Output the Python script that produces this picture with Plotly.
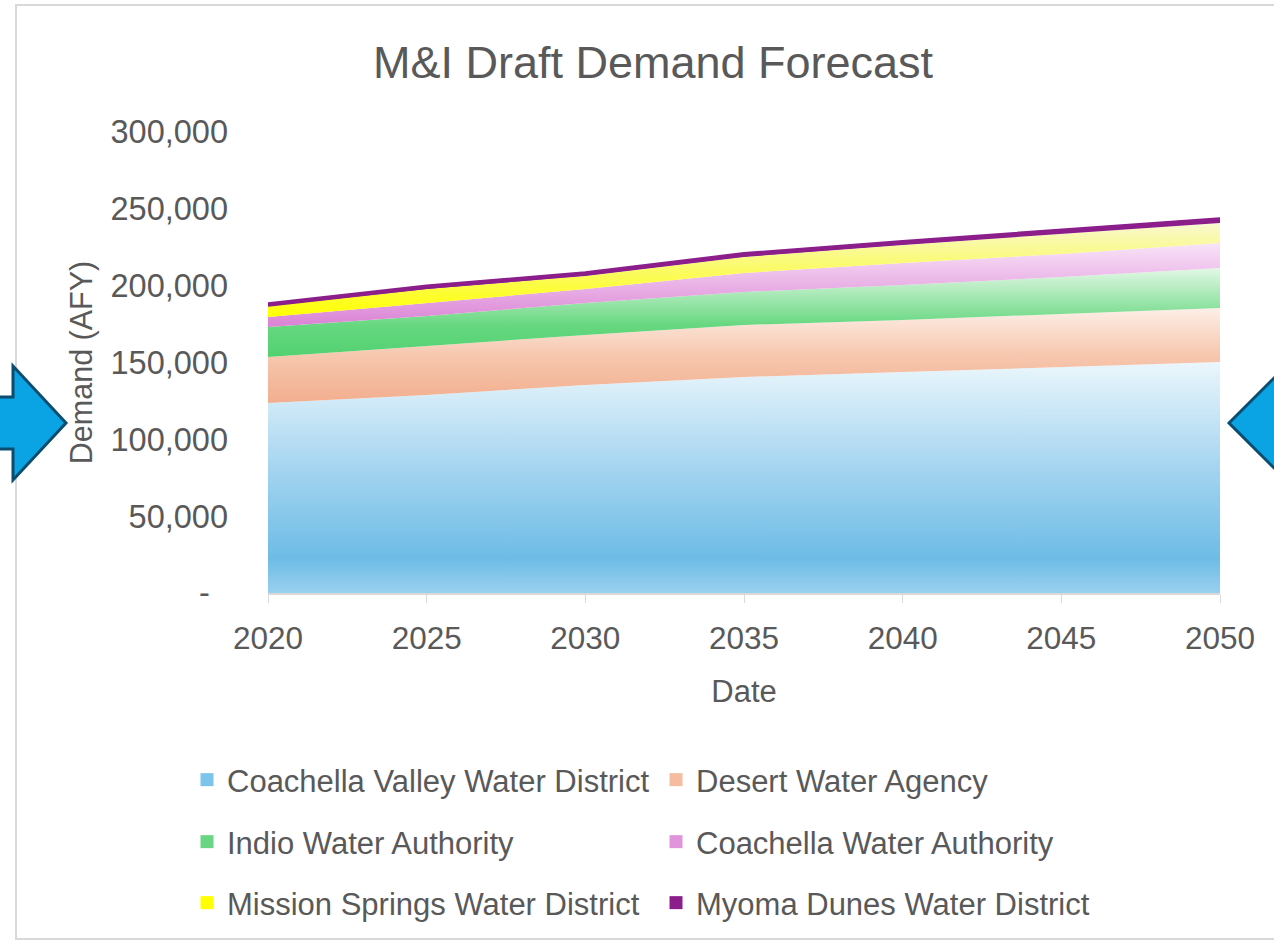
import plotly.graph_objects as go

years = [2020, 2025, 2030, 2035, 2040, 2045, 2050]
cvwd = [123700, 128900, 135400, 140600, 143800, 147000, 150300]
dwa = [29900, 31800, 32500, 33800, 33900, 34600, 35200]
iwa = [19500, 19600, 20800, 21500, 22800, 24000, 26000]
cwa = [6500, 8400, 9100, 12400, 14300, 15000, 16300]
mswd = [7200, 9100, 8500, 10400, 11700, 13000, 13000]
mdwd = [1000, 1500, 1700, 1700, 1800, 2000, 2300]

names = ["Coachella Valley Water District", "Desert Water Agency",
         "Indio Water Authority", "Coachella Water Authority",
         "Mission Springs Water District", "Myoma Dunes Water District"]
series = [cvwd, dwa, iwa, cwa, mswd, mdwd]

gradients = [
    [[0, "#9ad0ee"], [0.15, "#6dbce6"], [0.55, "#a6d5f0"], [1, "#ebf6fc"]],
    [[0, "#f2ae8e"], [0.5, "#f6c7ae"], [1, "#fdefe7"]],
    [[0, "#52d170"], [0.35, "#66d77f"], [1, "#e2f8e5"]],
    [[0, "#da82d4"], [0.4, "#e6a8e2"], [1, "#f9e4f8"]],
    [[0, "#ffff00"], [0.45, "#fbfb5a"], [1, "#f8f8d0"]],
    [[0, "#8b1e8b"], [1, "#8b1e8b"]],
]
legend_colors = ["#7cc4ea", "#f5bc9f", "#6ad683", "#e193dc", "#ffff00", "#8b1e8b"]

FONT = "Liberation Sans, Arial, sans-serif"
GREY = "#595959"

fig = go.Figure()
for i, (nm, vals) in enumerate(zip(names, series)):
    top = i == len(series) - 1
    fig.add_trace(go.Scatter(
        x=years, y=vals, name=nm, stackgroup="one", mode="lines",
        line=dict(width=4.5 if top else 0, color="#8b1e8b" if top else "rgba(0,0,0,0)"),
        fillgradient=dict(type="vertical", colorscale=gradients[i]),
        showlegend=False, hoverinfo="skip",
    ))

legend_ids = ["legend", "legend", "legend2", "legend2", "legend3", "legend3"]
for nm, col, lg in zip(names, legend_colors, legend_ids):
    fig.add_trace(go.Scatter(
        x=[None], y=[None], mode="markers", name=nm,
        marker=dict(symbol="square", size=13, color=col),
        legend=lg, showlegend=True,
    ))

L, R, T, B = 268, 54, 132, 351
PW, PH = 1274 - L - R, 944 - T - B


def px(x):
    return (x - L) / PW


def py(y):
    return (944 - B - y) / PH


def path(pts):
    return "M " + " L ".join(f"{px(a)},{py(b)}" for a, b in pts) + " Z"


shapes = [
    dict(type="rect", xref="paper", yref="paper", x0=px(16), x1=px(1290),
         y0=py(939), y1=py(5), line=dict(color="#d9d9d9", width=2), layer="below"),
    dict(type="path", xref="paper", yref="paper",
         path=path([(-10, 397), (13, 397), (13, 366), (66, 423), (13, 480), (13, 449), (-10, 449)]),
         fillcolor="#0aa3e3", line=dict(color="#0b4d6e", width=3)),
    dict(type="path", xref="paper", yref="paper",
         path=path([(1229, 423), (1290, 362), (1290, 484)]),
         fillcolor="#0aa3e3", line=dict(color="#0b4d6e", width=3)),
]

leg_common = dict(orientation="h", xanchor="left", yanchor="middle", traceorder="normal",
                  entrywidth=424, entrywidthmode="pixels",
                  font=dict(family=FONT, size=31, color=GREY),
                  bgcolor="rgba(0,0,0,0)", itemclick=False, itemdoubleclick=False)

fig.update_layout(
    width=1274, height=944,
    margin=dict(l=L, r=R, t=T, b=B),
    paper_bgcolor="white", plot_bgcolor="white",
    font=dict(family=FONT, color=GREY),
    title=dict(text="M&I Draft Demand Forecast", x=653 / 1274, xref="container", xanchor="center",
               y=1 - 62 / 944, yref="container", yanchor="middle",
               font=dict(family=FONT, size=45, color=GREY)),
    xaxis=dict(range=[2020, 2050], tickvals=years, ticktext=[str(y) for y in years],
               showgrid=False, zeroline=False, showline=True, linecolor="#d9d9d9", linewidth=1.5,
               ticks="outside", ticklen=8, tickcolor="#d9d9d9",
               tickfont=dict(family=FONT, size=31.5, color=GREY), ticklabelstandoff=8,
               title=dict(text="Date", font=dict(family=FONT, size=31, color=GREY), standoff=26)),
    yaxis=dict(range=[0, 300000], tickvals=[0, 50000, 100000, 150000, 200000, 250000, 300000],
               ticktext=["-\u00a0\u00a0", "50,000", "100,000", "150,000", "200,000", "250,000", "300,000"],
               showgrid=False, zeroline=False, showline=False, ticks="",
               tickfont=dict(family=FONT, size=32.5, color=GREY), ticklabelstandoff=39,
               title=dict(text="Demand (AFY)", font=dict(family=FONT, size=30.5, color=GREY), standoff=8)),
    legend=dict(x=px(187), y=py(780), **leg_common),
    legend2=dict(x=px(187), y=py(842), **leg_common),
    legend3=dict(x=px(187), y=py(903), **leg_common),
    shapes=shapes,
    hovermode=False,
)

fig.write_html("out.html")
